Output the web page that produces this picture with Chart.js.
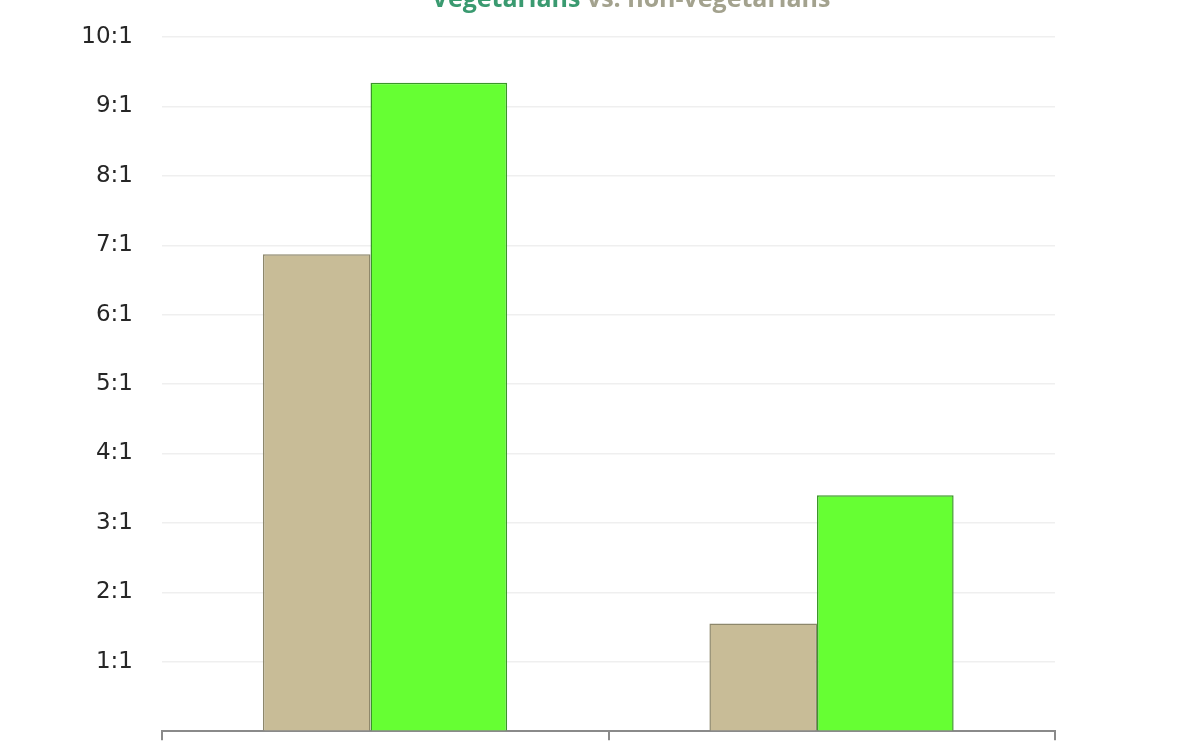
<!DOCTYPE html>
<html>
<head>
<meta charset="utf-8">
<script src="https://cdn.jsdelivr.net/npm/chart.js@4.4.0/dist/chart.umd.min.js"></script>
<style>
  html, body { margin: 0; padding: 0; background: #fff; overflow: hidden; }
  #wrap { position: absolute; left: 0; top: -20px; width: 1199px; height: 794px; }
</style>
</head>
<body>
<div id="wrap"><canvas id="ratioChart"></canvas></div>
<script>
// categories are not labelled in the picture
const categories = ['Group 1', 'Group 2'];
const nonVegetarians = [6.87, 1.55];
const vegetarians = [9.34, 3.40];
const yTickLabels = ['', '1:1', '2:1', '3:1', '4:1', '5:1', '6:1', '7:1', '8:1', '9:1', '10:1'];

const titleParts = [
    { text: 'Vegetarians', color: '#3a9a70' },
    { text: ' vs. non-vegetarians', color: '#a3a28e' }
];

// title is two-coloured, so draw it ourselves
const titlePlugin = {
    id: 'twoColourTitle',
    afterDraw(chart) {
        const ctx = chart.ctx;
        ctx.save();
        ctx.font = 'bold 25px "Open Sans"';
        ctx.textBaseline = 'alphabetic';
        ctx.textAlign = 'left';
        const total = titleParts.reduce((w, p) => w + ctx.measureText(p.text).width, 0);
        let x = 631 - total / 2;
        titleParts.forEach(p => {
            ctx.fillStyle = p.color;
            ctx.fillText(p.text, x, 27);
            x += ctx.measureText(p.text).width;
        });
        ctx.restore();
    }
};

const ctx = document.getElementById('ratioChart').getContext('2d');
const chart = new Chart(ctx, {
    type: 'bar',
    data: {
        labels: categories,
        datasets: [{
            label: 'Non-vegetarians',
            data: nonVegetarians,
            backgroundColor: '#c8bc97',
            borderColor: '#8d876b',
            borderWidth: 1.5,
            categoryPercentage: 0.614,
            barPercentage: 0.785,
        }, {
            label: 'Vegetarians',
            data: vegetarians,
            backgroundColor: '#66ff33',
            borderColor: '#3a9628',
            borderWidth: 1.5,
            categoryPercentage: 0.48,
            barPercentage: 1.275,
        }],
    },
    options: {
        responsive: true,
        maintainAspectRatio: false,
        animation: false,
        layout: {
            padding: { top: 57, right: 144, bottom: 10, left: 0 },
        },
        plugins: {
            legend: { display: false },
            title: { display: false },
            tooltip: { enabled: false },
        },
        scales: {
            x: {
                ticks: { display: false },
                grid: {
                    offset: true,
                    drawOnChartArea: false,
                    drawTicks: true,
                    tickLength: 9,
                    color: '#8a8a8a',
                    lineWidth: 2,
                },
                border: { display: true, color: '#8a8a8a', width: 2 },
            },
            y: {
                min: 0,
                max: 10,
                afterFit: (scale) => { scale.width = 162; },
                ticks: {
                    stepSize: 1,
                    padding: 29,
                    color: '#262626',
                    font: { family: 'DejaVu Sans', size: 23 },
                    callback: (v) => yTickLabels[v],
                },
                grid: {
                    drawTicks: false,
                    color: (c) => c.tick.value === 0 ? 'rgba(0,0,0,0)' : '#efefef',
                    lineWidth: 1.5,
                },
                border: { display: false },
            },
        },
    },
    plugins: [titlePlugin],
});
</script>
</body>
</html>
